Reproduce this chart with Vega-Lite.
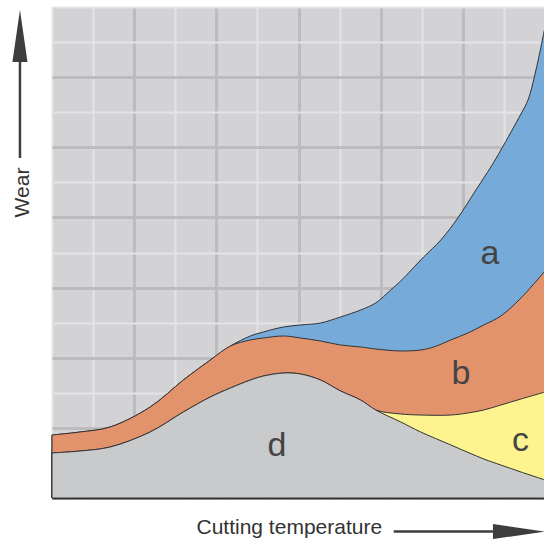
{
  "$schema": "https://vega.github.io/schema/vega-lite/v6.json",
  "width": 492,
  "height": 491,
  "autosize": "none",
  "padding": {"left": 52, "top": 7, "right": 0, "bottom": 41},
  "background": "#ffffff",
  "config": {
    "view": {"stroke": null, "fill": "#d3d3d5"},
    "font": "Liberation Sans"
  },
  "datasets": {
    "curves": [
      {"s": "a", "x": 0, "y": 0.898}, {"s": "a", "x": 0.341, "y": 0.941}, {"s": "a", "x": 0.707, "y": 1.012}, {"s": "a", "x": 1.195, "y": 1.297}, {"s": "a", "x": 1.598, "y": 1.682}, {"s": "a", "x": 1.927, "y": 1.967}, {"s": "a", "x": 2.171, "y": 2.167}, {"s": "a", "x": 2.415, "y": 2.31}, {"s": "a", "x": 2.573, "y": 2.367}, {"s": "a", "x": 2.817, "y": 2.438}, {"s": "a", "x": 3.024, "y": 2.467}, {"s": "a", "x": 3.268, "y": 2.495}, {"s": "a", "x": 3.512, "y": 2.581}, {"s": "a", "x": 3.756, "y": 2.68}, {"s": "a", "x": 3.939, "y": 2.78}, {"s": "a", "x": 4.122, "y": 2.966}, {"s": "a", "x": 4.244, "y": 3.094}, {"s": "a", "x": 4.523, "y": 3.436}, {"s": "a", "x": 4.732, "y": 3.678}, {"s": "a", "x": 4.939, "y": 3.992}, {"s": "a", "x": 5.159, "y": 4.391}, {"s": "a", "x": 5.341, "y": 4.719}, {"s": "a", "x": 5.463, "y": 4.961}, {"s": "a", "x": 5.707, "y": 5.475}, {"s": "a", "x": 5.793, "y": 5.674}, {"s": "a", "x": 5.89, "y": 6.102}, {"s": "a", "x": 6.0, "y": 6.715},
      {"s": "b", "x": 0, "y": 0.898}, {"s": "b", "x": 0.341, "y": 0.941}, {"s": "b", "x": 0.707, "y": 1.012}, {"s": "b", "x": 1.195, "y": 1.297}, {"s": "b", "x": 1.598, "y": 1.682}, {"s": "b", "x": 1.927, "y": 1.967}, {"s": "b", "x": 2.171, "y": 2.167}, {"s": "b", "x": 2.415, "y": 2.253}, {"s": "b", "x": 2.573, "y": 2.281}, {"s": "b", "x": 2.817, "y": 2.31}, {"s": "b", "x": 3.024, "y": 2.281}, {"s": "b", "x": 3.268, "y": 2.238}, {"s": "b", "x": 3.512, "y": 2.181}, {"s": "b", "x": 3.756, "y": 2.153}, {"s": "b", "x": 3.939, "y": 2.124}, {"s": "b", "x": 4.244, "y": 2.096}, {"s": "b", "x": 4.488, "y": 2.11}, {"s": "b", "x": 4.646, "y": 2.153}, {"s": "b", "x": 4.854, "y": 2.253}, {"s": "b", "x": 5.061, "y": 2.352}, {"s": "b", "x": 5.256, "y": 2.467}, {"s": "b", "x": 5.463, "y": 2.595}, {"s": "b", "x": 5.707, "y": 2.851}, {"s": "b", "x": 6.0, "y": 3.236},
      {"s": "c", "x": 0, "y": 0.642}, {"s": "c", "x": 0.341, "y": 0.67}, {"s": "c", "x": 0.707, "y": 0.727}, {"s": "c", "x": 1.195, "y": 0.941}, {"s": "c", "x": 1.598, "y": 1.226}, {"s": "c", "x": 1.927, "y": 1.44}, {"s": "c", "x": 2.171, "y": 1.568}, {"s": "c", "x": 2.415, "y": 1.682}, {"s": "c", "x": 2.573, "y": 1.739}, {"s": "c", "x": 2.817, "y": 1.782}, {"s": "c", "x": 3.024, "y": 1.768}, {"s": "c", "x": 3.268, "y": 1.682}, {"s": "c", "x": 3.512, "y": 1.526}, {"s": "c", "x": 3.756, "y": 1.397}, {"s": "c", "x": 3.939, "y": 1.255}, {"s": "c", "x": 4.244, "y": 1.198}, {"s": "c", "x": 4.488, "y": 1.183}, {"s": "c", "x": 4.854, "y": 1.183}, {"s": "c", "x": 5.061, "y": 1.212}, {"s": "c", "x": 5.256, "y": 1.255}, {"s": "c", "x": 5.463, "y": 1.326}, {"s": "c", "x": 5.707, "y": 1.411}, {"s": "c", "x": 6.0, "y": 1.511},
      {"s": "d", "x": 0, "y": 0.642}, {"s": "d", "x": 0.341, "y": 0.67}, {"s": "d", "x": 0.707, "y": 0.727}, {"s": "d", "x": 1.195, "y": 0.941}, {"s": "d", "x": 1.598, "y": 1.226}, {"s": "d", "x": 1.927, "y": 1.44}, {"s": "d", "x": 2.171, "y": 1.568}, {"s": "d", "x": 2.415, "y": 1.682}, {"s": "d", "x": 2.573, "y": 1.739}, {"s": "d", "x": 2.817, "y": 1.782}, {"s": "d", "x": 3.024, "y": 1.768}, {"s": "d", "x": 3.268, "y": 1.682}, {"s": "d", "x": 3.512, "y": 1.526}, {"s": "d", "x": 3.756, "y": 1.397}, {"s": "d", "x": 3.939, "y": 1.255}, {"s": "d", "x": 4.244, "y": 1.084}, {"s": "d", "x": 4.488, "y": 0.941}, {"s": "d", "x": 4.854, "y": 0.756}, {"s": "d", "x": 5.256, "y": 0.556}, {"s": "d", "x": 5.463, "y": 0.47}, {"s": "d", "x": 5.707, "y": 0.371}, {"s": "d", "x": 6.0, "y": 0.257}
    ],
    "labels": [
      {"label": "a", "x": 5.329, "y": 3.336},
      {"label": "b", "x": 4.976, "y": 1.625},
      {"label": "c", "x": 5.701, "y": 0.67},
      {"label": "d", "x": 2.738, "y": 0.599}
    ],
    "shafts": [
      {"x": -0.39, "y": 4.847, "x2": -0.39, "y2": 6.216},
      {"x": 4.159, "y": -0.478, "x2": 5.366, "y2": -0.478}
    ],
    "heads": [
      {"dir": "up", "x": -0.39, "y": 6.587},
      {"dir": "right", "x": 5.683, "y": -0.478}
    ]
  },
  "encoding": {
    "x": {
      "field": "x", "type": "quantitative",
      "scale": {"domain": [0, 6], "range": [0, 493], "nice": false, "zero": false},
      "axis": {
        "values": [0, 0.5, 1, 1.5, 2, 2.5, 3, 3.5, 4, 4.5, 5, 5.5, 6],
        "grid": true,
        "gridColor": {"condition": {"test": "datum.value % 1 === 0 && datum.value > 0", "value": "#bcbcbe"}, "value": "#e4e4e6"},
        "gridWidth": {"condition": {"test": "datum.value % 1 === 0 && datum.value > 0", "value": 3}, "value": 2},
        "ticks": false, "labels": false,
        "domain": true, "domainColor": "#555555", "domainWidth": 2,
        "title": "Cutting temperature",
        "titleX": 144, "titleY": 35, "titleAlign": "left", "titleBaseline": "alphabetic",
        "titleFontSize": 21, "titleFontWeight": "normal", "titleColor": "#333333", "titleFont": "Liberation Sans"
      }
    },
    "y": {
      "field": "y", "type": "quantitative",
      "scale": {"domain": [0, 7], "nice": false, "zero": false},
      "axis": {
        "values": [0, 0.5, 1, 1.5, 2, 2.5, 3, 3.5, 4, 4.5, 5, 5.5, 6, 6.5, 7],
        "grid": true,
        "gridColor": {"condition": {"test": "datum.value % 1 === 0 && datum.value < 7", "value": "#bcbcbe"}, "value": "#e4e4e6"},
        "gridWidth": {"condition": {"test": "datum.value % 1 === 0 && datum.value < 7", "value": 3}, "value": 2},
        "ticks": false, "labels": false, "domain": false,
        "title": "Wear",
        "titleX": -24, "titleY": 185, "titleAngle": -90, "titleAlign": "center", "titleBaseline": "alphabetic",
        "titleFontSize": 21, "titleFontWeight": "normal", "titleColor": "#333333", "titleFont": "Liberation Sans"
      }
    }
  },
  "layer": [
    {
      "data": {"name": "curves"},
      "transform": [{"filter": "datum.s === 'a'"}],
      "mark": {"type": "area", "interpolate": "catmull-rom", "fill": "#75aad9", "stroke": "#333333", "strokeWidth": 1, "opacity": 1},
      "encoding": {}
    },
    {
      "data": {"name": "curves"},
      "transform": [{"filter": "datum.s === 'b'"}],
      "mark": {"type": "area", "interpolate": "catmull-rom", "fill": "#e3936c", "stroke": "#333333", "strokeWidth": 1, "opacity": 1},
      "encoding": {}
    },
    {
      "data": {"name": "curves"},
      "transform": [{"filter": "datum.s === 'c'"}],
      "mark": {"type": "area", "interpolate": "catmull-rom", "fill": "#fdf38f", "stroke": "#333333", "strokeWidth": 1, "opacity": 1},
      "encoding": {}
    },
    {
      "data": {"name": "curves"},
      "transform": [{"filter": "datum.s === 'd'"}],
      "mark": {"type": "area", "interpolate": "catmull-rom", "fill": "#c9cacc", "stroke": "#333333", "strokeWidth": 1, "opacity": 1},
      "encoding": {}
    },
    {
      "data": {"name": "labels"},
      "mark": {"type": "text", "font": "Liberation Sans", "fontSize": 34, "color": "#444444", "align": "center", "baseline": "alphabetic"},
      "encoding": {"text": {"field": "label"}}
    },
    {
      "data": {"name": "shafts"},
      "mark": {"type": "rule", "color": "#3d3d3d", "strokeWidth": 2.5},
      "encoding": {"x2": {"field": "x2"}, "y2": {"field": "y2"}}
    },
    {
      "data": {"name": "heads"},
      "transform": [{"filter": "datum.dir === 'up'"}],
      "mark": {"type": "point", "shape": "M0,-1L0.29,1L-0.29,1Z", "size": 2704, "filled": true, "color": "#3d3d3d", "opacity": 1, "strokeWidth": 0},
      "encoding": {}
    },
    {
      "data": {"name": "heads"},
      "transform": [{"filter": "datum.dir === 'right'"}],
      "mark": {"type": "point", "shape": "M1,0L-1,-0.29L-1,0.29Z", "size": 2704, "filled": true, "color": "#3d3d3d", "opacity": 1, "strokeWidth": 0},
      "encoding": {}
    }
  ]
}
